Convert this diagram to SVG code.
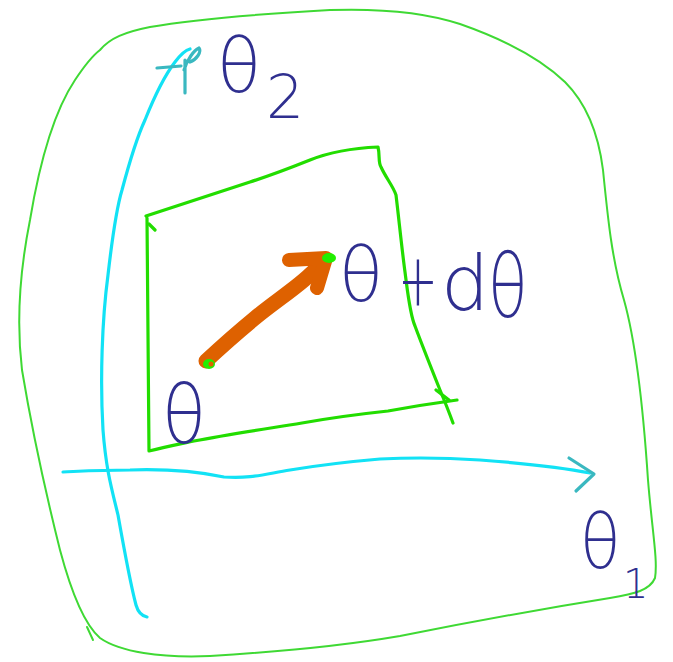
<svg xmlns="http://www.w3.org/2000/svg" width="673" height="662" viewBox="0 0 673 662">
<style>
.outer{fill:none;stroke:#3fd934;stroke-width:2;stroke-linecap:round;stroke-linejoin:round}
.inner{fill:none;stroke:#22dd00;stroke-width:3.2;stroke-linecap:round;stroke-linejoin:round}
.axis{fill:none;stroke:#12e2f5;stroke-width:3.2;stroke-linecap:round;stroke-linejoin:round}
.tip{fill:none;stroke:#3ab8c0;stroke-width:3.2;stroke-linecap:round;stroke-linejoin:round}
.lbl{font-family:"DejaVu Sans","Liberation Sans",sans-serif;font-weight:200;fill:#2f2f8f}
</style>
<rect width="673" height="662" fill="#ffffff"/>
<g id="outer-region">
<path class="outer" d="M100,50 C110,38 125,32 150,27 C190,20 260,14 330,10 C390,8 430,14 460,24 C500,38 540,58 565,82 C585,102 598,130 603,170 C608,220 612,260 624,300 C638,350 644,420 648,480 C652,530 658,560 655,578 C650,590 635,594 610,598 C560,606 480,620 400,636 C330,648 260,653 210,656 C160,658 120,652 100,638 C85,625 72,595 60,550 C45,490 32,430 22,370 C16,320 20,270 30,220 C40,160 55,110 75,80 C85,65 92,56 100,50 Z"/>
<path class="outer" d="M87,627 L93,640"/>
</g>
<g id="axis-theta2">
<path class="axis" d="M147,617 C142,616 138,612 136,605 C132,590 126,560 118,515 C112,490 106,470 103,430 C100,380 102,320 108,275 C112,240 116,210 122,190 C130,160 138,135 145,120 C155,95 165,75 175,62 C181,54 186,50 190,49"/>
<path class="tip" d="M157,68 L181,66 M185,60 L185,93 M184,70 C187,60 194,50 199,48 C202,52 196,60 190,62"/>
</g>
<g id="axis-theta1">
<path class="axis" d="M63,472 C85,471 100,470 130,470 C160,469 190,470 224,477 C250,479 265,474 290,470 C320,465 345,462 380,459 C420,457 450,458 480,460 C520,463 555,466 590,473"/>
<path class="tip" d="M569,458 L594,474 L576,491"/>
</g>
<g id="region-dtheta">
<path class="inner" d="M146,216 C170,208 210,195 250,182 C275,174 295,166 310,160 C330,152 355,148 378,147 C380,155 378,162 381,167 C386,178 393,186 396,195 C399,220 402,250 405,272 C408,295 410,315 415,326 C422,345 432,370 440,390 C445,402 449,412 453,423"/>
<path class="inner" d="M147,218 L149,451 C165,447 180,444 194,441 C230,434 265,429 302,423 C330,418 360,414 388,411 C410,407 435,403 457,400"/>
<path class="inner" d="M149,224 L155,230 M436,390 L449,400"/>
</g>
<g id="vector-dtheta">
<path d="M206,361 C220,348 238,332 255,318 C272,304 290,292 304,280 C312,273 318,267 324,261" fill="none" stroke="#de6100" stroke-width="15" stroke-linecap="round" stroke-linejoin="round"/>
<path d="M289,260 L326,258 L317,288" fill="none" stroke="#de6100" stroke-width="14" stroke-linecap="round" stroke-linejoin="round"/>
<ellipse cx="329" cy="258" rx="7" ry="5" fill="#22ee00"/>
<ellipse cx="209" cy="364" rx="6" ry="5" fill="#22ee00"/>
<ellipse cx="211" cy="364" rx="2.5" ry="2.5" fill="#de6100"/>
</g>
<g id="labels">
<text class="lbl" transform="translate(217,92) scale(1,1.05)" font-size="72">θ</text>
<text class="lbl" x="266" y="118" font-size="60">2</text>
<text class="lbl" transform="translate(339,301) scale(1,1.05)" font-size="72">θ</text>
<text class="lbl" transform="translate(398,306) scale(0.85,1.3)" font-size="56">+</text>
<text class="lbl" x="441" y="310" font-size="76">d</text>
<text class="lbl" transform="translate(488,317) scale(0.9,1.2)" font-size="72">θ</text>
<text class="lbl" transform="translate(162,443) scale(1,1.12)" font-size="72">θ</text>
<text class="lbl" transform="translate(580,568) scale(0.92,1.05)" font-size="72">θ</text>
<text class="lbl" x="623" y="598" font-size="40">1</text>
</g>
</svg>
